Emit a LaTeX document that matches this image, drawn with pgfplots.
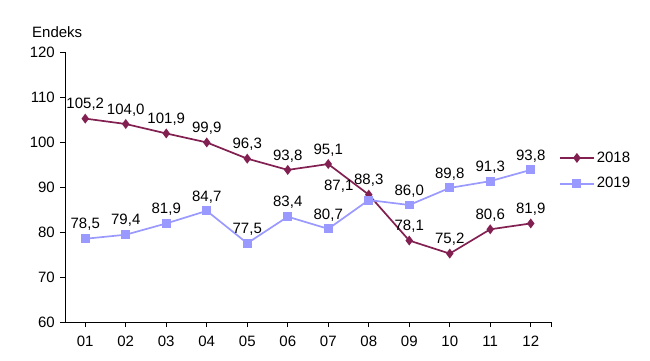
\documentclass[border=0pt]{standalone}
\usepackage{pgfplots}
\pgfplotsset{compat=1.18}
\usepackage{pgfplotstable}
\usepackage{fontspec}
\setmainfont{Liberation Sans}
\definecolor{cA}{HTML}{822052}
\definecolor{cB}{HTML}{9999FF}
\pgfplotstableread{
x y xs
1 105.2 0
2 104.0 0
3 101.9 0
4 99.9 0
5 96.3 0
6 93.8 0
7 95.1 0
8 88.3 0
9 78.1 0
10 75.2 0
11 80.6 0
12 81.9 0
}\dataA
\pgfplotstableread{
x y xs
1 78.5 0
2 79.4 0
3 81.9 0
4 84.7 0
5 77.5 0
6 83.4 0
7 80.7 0
8 87.1 -30
9 86.0 0
10 89.8 0
11 91.3 0
12 93.8 0
}\dataB
\begin{document}
\fontsize{15}{18}\selectfont
\begin{tikzpicture}
\path[use as bounding box] (0pt,0pt) rectangle (650pt,360pt);
\begin{axis}[
  at={(65pt,38pt)}, anchor=south west,
  scale only axis, width=486pt, height=270pt,
  xmin=0.5, xmax=12.5, ymin=60, ymax=120,
  ytick={60,70,...,120},
  xtick={1,...,12},
  xticklabels={01,02,03,04,05,06,07,08,09,10,11,12},
  extra x ticks={12.5}, extra x tick labels={},
  axis x line*=bottom, axis y line*=left,
  axis line style={-, line width=0.9pt, black},
  tick style={black, line width=0.9pt},
  tick align=outside, major tick length=5pt,
  xticklabel style={yshift=-4pt},
  /pgf/number format/assume math mode=true,
  ticklabel style={font=\fontsize{15}{18}\selectfont},
  nodes near coords={\pgfmathprintnumber[fixed,fixed zerofill,precision=1,use comma,assume math mode=true]{\pgfplotspointmeta}},
  every node near coord/.append style={font=\fontsize{15}{18}\selectfont, black, anchor=south, yshift=2pt, xshift=\xs pt},
  visualization depends on={\thisrow{xs}\as\xs},
  legend style={draw=none, fill=none, at={(rel axis cs:1.01,0.56)}, anchor=west, font=\fontsize{15}{18}\selectfont, row sep=9pt},
  legend cell align=left,
  legend image code/.code={\draw[#1, mark repeat=2, mark phase=2] plot coordinates {(0pt,0pt) (17pt,0pt) (34pt,0pt)};},
  clip=false,
]
\addplot[color=cA, line width=1.7pt, mark=diamond*, mark size=3.6pt, mark options={solid}] table[x=x,y=y] {\dataA};
\addlegendentry{2018}
\addplot[color=cB, line width=1.7pt, mark=square*, mark size=3.6pt, mark options={solid}] table[x=x,y=y] {\dataB};
\addlegendentry{2019}
\node[anchor=south west, inner sep=0pt] at (rel axis cs:0,1) [xshift=-33pt, yshift=14pt] {Endeks};
\end{axis}
\end{tikzpicture}
\end{document}
